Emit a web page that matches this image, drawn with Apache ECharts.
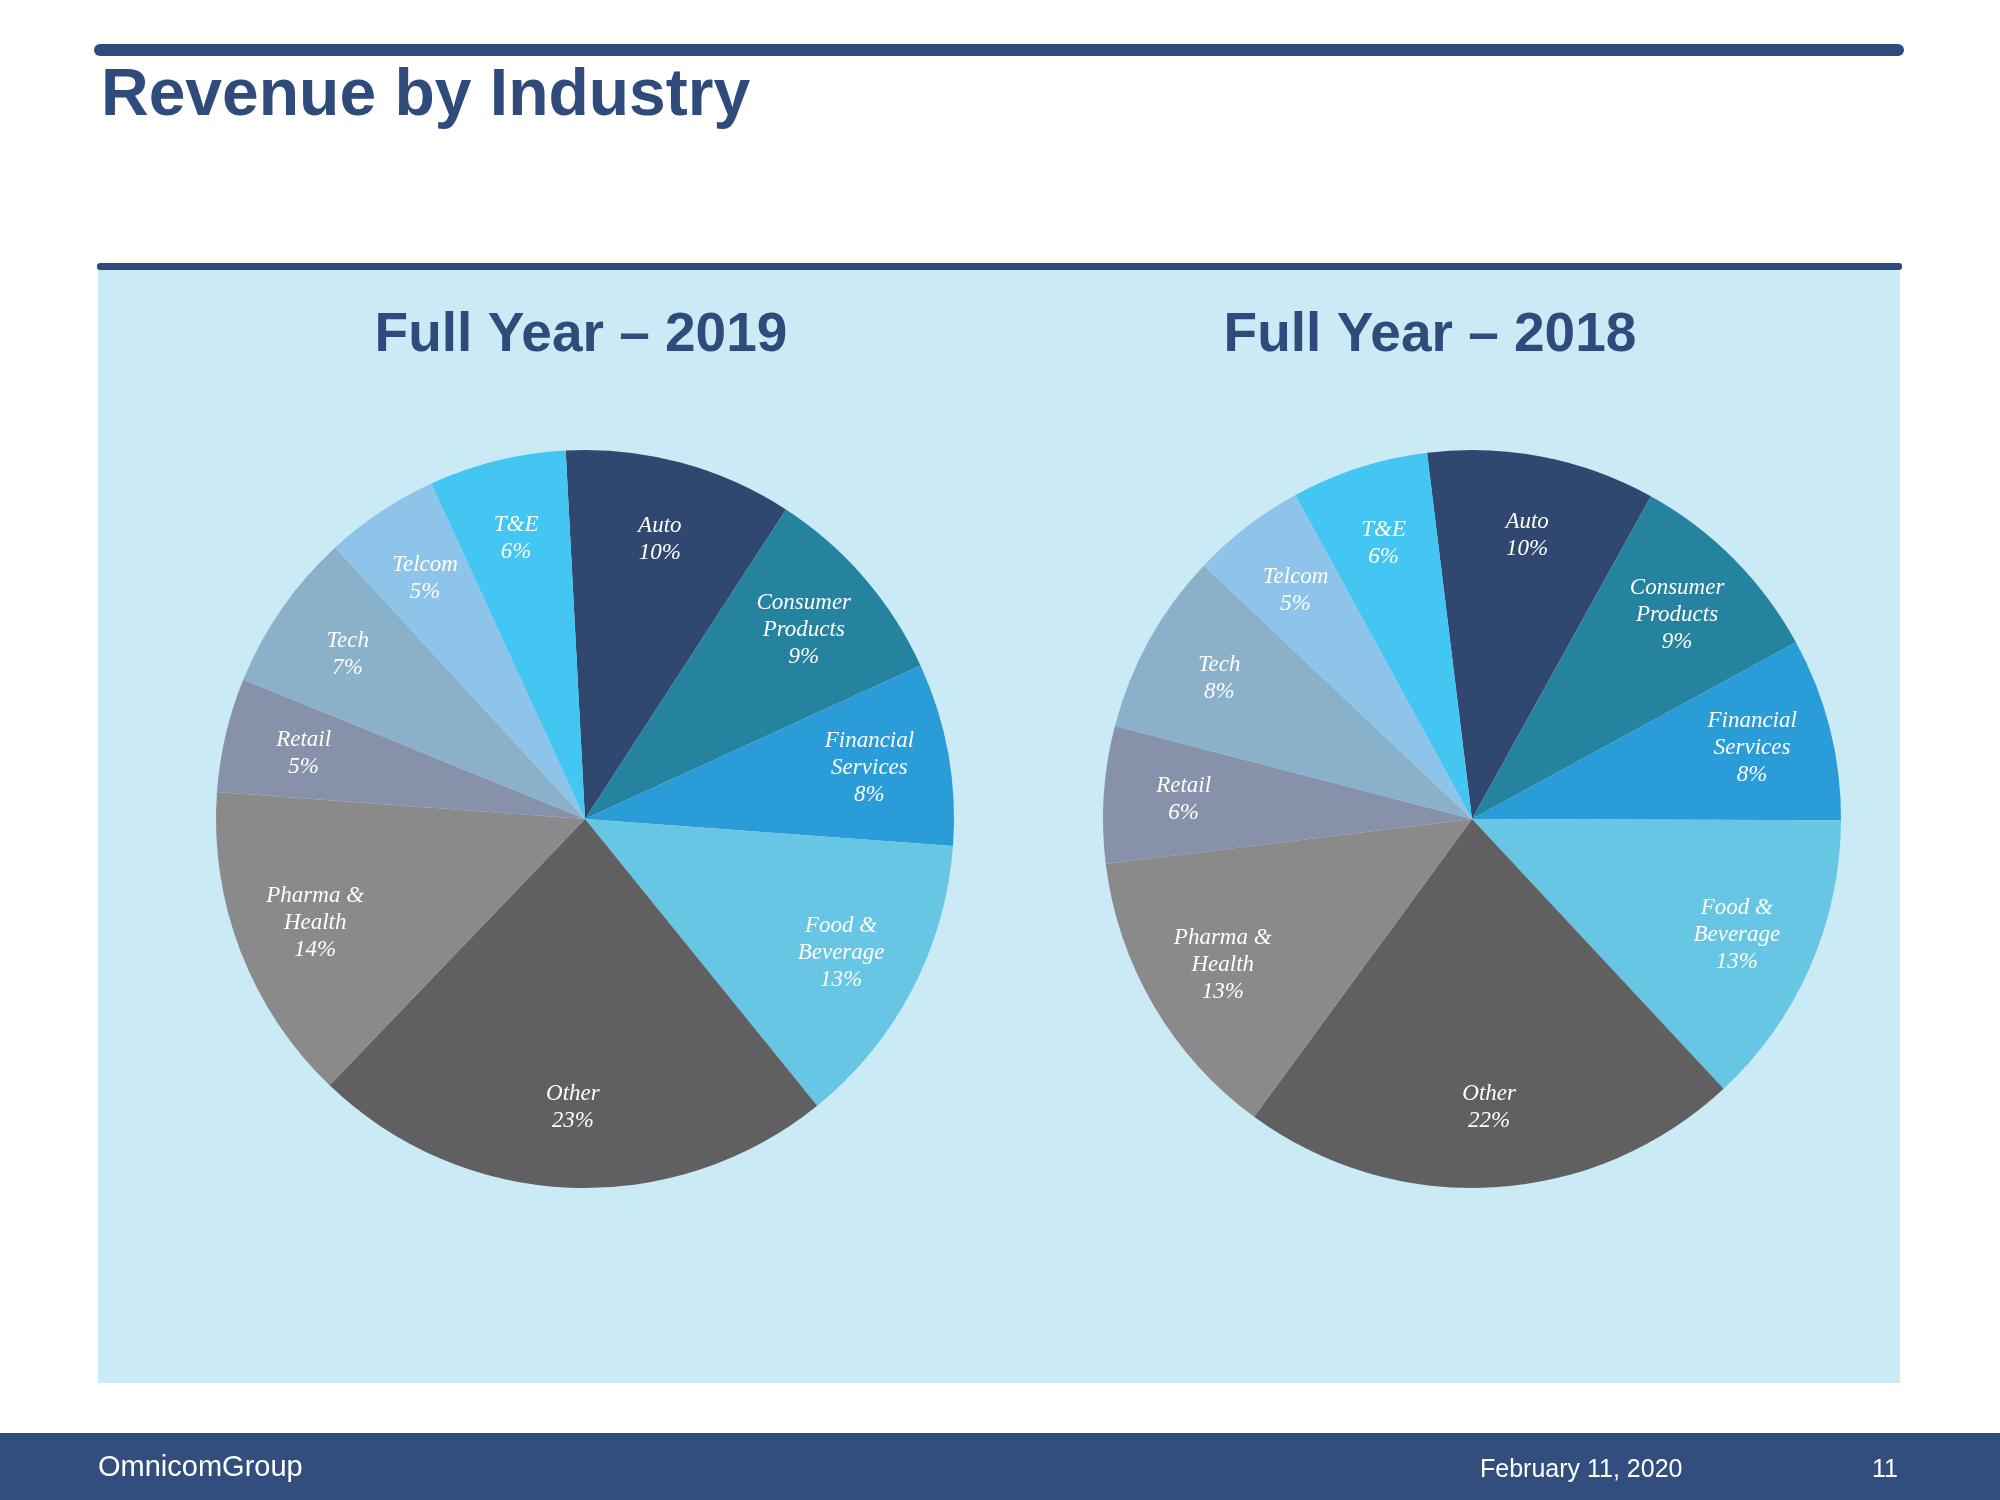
<!DOCTYPE html>
<html>
<head>
<meta charset="utf-8">
<script src="https://cdn.jsdelivr.net/npm/echarts@6/dist/echarts.min.js"></script>
<style>html,body{margin:0;padding:0;background:#fff;}#chart{width:2000px;height:1500px;}</style>
</head>
<body>
<div id="chart"></div>
<script>
const categories = ['Auto', 'Consumer Products', 'Financial Services', 'Food & Beverage', 'Other', 'Pharma & Health', 'Retail', 'Tech', 'Telcom', 'T&E'];
const values2019 = [10, 9, 8, 13, 23, 14, 5, 7, 5, 6];
const values2018 = [10, 9, 8, 13, 22, 13, 6, 8, 5, 6];
const sliceColors = ['#30486F', '#2683A0', '#2A9DD8', '#68C6E5', '#606060', '#8A8A8A', '#8791A9', '#8AB1C9', '#8EC4E9', '#43C6F2'];
const pageTitle = 'Revenue by Industry';
const chartTitles = ['Full Year \u2013 2019', 'Full Year \u2013 2018'];
const footerDate = 'February 11, 2020';
const pageNumber = '11';

const navy = '#2F4B7C';
const chart = echarts.init(document.getElementById('chart'), null, {renderer: 'canvas'});

function mkData(vals) {
  return categories.map((c, i) => ({name: c, value: vals[i], itemStyle: {color: sliceColors[i]}}));
}
function labelFmt(p) {
  return p.name.replace(/ (?=[^ ]*$)/, '\n') + '\n' + p.value + '%';
}
function pies(vals, cx, startAngle) {
  const R = 369;
  return [
    {
      type: 'pie', center: [cx, 819], radius: [0, R], startAngle: startAngle, clockwise: true,
      silent: true, label: {show: false}, labelLine: {show: false},
      itemStyle: {borderWidth: 0}, data: mkData(vals), animation: false
    },
    {
      type: 'pie', center: [cx, 819], radius: [Math.round(R * 0.55), R], startAngle: startAngle, clockwise: true,
      silent: true, animation: false,
      itemStyle: {color: 'rgba(0,0,0,0)', borderWidth: 0},
      label: {
        show: true, position: 'inside', formatter: labelFmt, color: '#ffffff',
        fontFamily: 'Liberation Serif', fontStyle: 'italic', fontSize: 23, lineHeight: 27,
        align: 'center', textBorderWidth: 0
      },
      labelLine: {show: false},
      data: categories.map((c, i) => ({name: c, value: vals[i]}))
    }
  ];
}

const option = {
  animation: false,
  backgroundColor: '#ffffff',
  graphic: [
    {type: 'rect', shape: {x: 94, y: 44, width: 1810, height: 12, r: 6}, style: {fill: navy}},
    {type: 'rect', shape: {x: 97, y: 263, width: 1805, height: 7, r: 3}, style: {fill: navy}},
    {type: 'rect', shape: {x: 98, y: 269, width: 1802, height: 1114}, style: {fill: '#CAEBF6'}, z: -10},
    {type: 'rect', shape: {x: 0, y: 1433, width: 2000, height: 67}, style: {fill: '#324E7E'}},
    {type: 'text', x: 101, y: 97, style: {text: pageTitle, font: 'bold 66px "Liberation Sans", Arial, sans-serif', fill: navy, align: 'left', verticalAlign: 'middle'}},
    {type: 'text', x: 581, y: 336, style: {text: chartTitles[0], font: 'bold 55px "Liberation Sans", Arial, sans-serif', fill: navy, align: 'center', verticalAlign: 'middle'}},
    {type: 'text', x: 1430, y: 336, style: {text: chartTitles[1], font: 'bold 55px "Liberation Sans", Arial, sans-serif', fill: navy, align: 'center', verticalAlign: 'middle'}},
    {type: 'text', x: 98, y: 1468, style: {text: 'OmnicomGroup', font: '29px "Liberation Sans", Arial, sans-serif', fill: '#ffffff', align: 'left', verticalAlign: 'middle'}},
    {type: 'text', x: 1480, y: 1470, style: {text: footerDate, font: '25px "Liberation Sans", Arial, sans-serif', fill: '#ffffff', align: 'left', verticalAlign: 'middle'}},
    {type: 'text', x: 1898, y: 1470, style: {text: pageNumber, font: '25px "Liberation Sans", Arial, sans-serif', fill: '#ffffff', align: 'right', verticalAlign: 'middle'}}
  ],
  series: [].concat(pies(values2019, 585, 93), pies(values2018, 1472, 97))
};
chart.setOption(option);
</script>
</body>
</html>
